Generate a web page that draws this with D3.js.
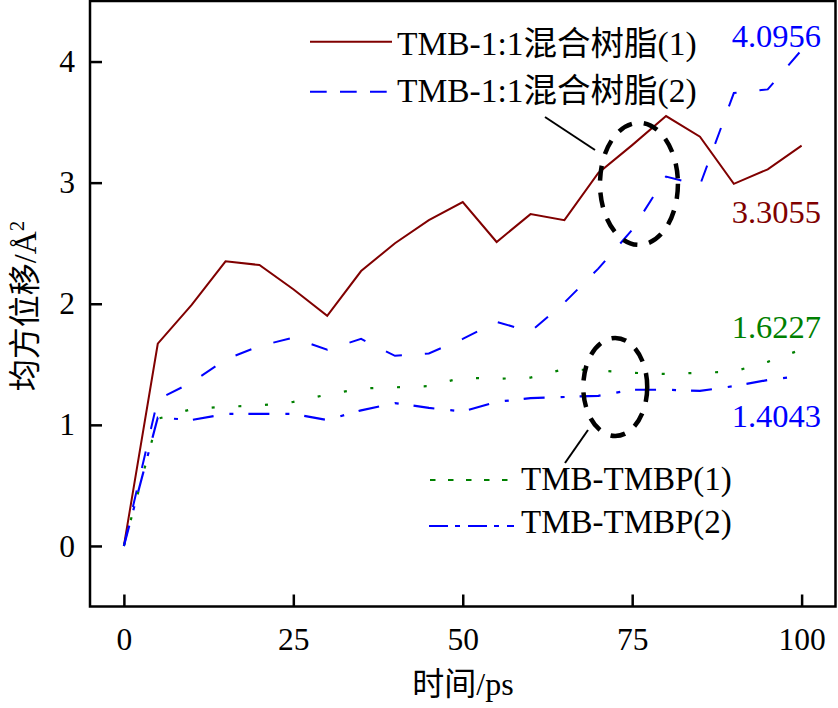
<!DOCTYPE html>
<html>
<head>
<meta charset="utf-8">
<script src="https://cdn.jsdelivr.net/npm/d3@7"></script>
<style>
  html, body { margin: 0; padding: 0; background: #fff; }
  svg { display: block; }
  text { font-family: "Liberation Serif", "Times New Roman", "Noto Sans CJK SC", serif; }
</style>
</head>
<body>
<svg id="chart" width="838" height="708"></svg>
<script>
// ---- data ----
const time = [0, 5, 10, 15, 20, 25, 30, 35, 40, 45, 50, 55, 60, 65, 70, 75, 80, 85, 90, 95, 100];
const resin1 = [0, 1.67, 1.99, 2.35, 2.32, 2.12, 1.90, 2.27, 2.50, 2.69, 2.84, 2.51, 2.74, 2.69, 3.08, 3.31, 3.55, 3.38, 2.99, 3.11, 3.3055];
const resin2 = [0, 1.21, 1.35, 1.54, 1.65, 1.72, 1.62, 1.71, 1.57, 1.59, 1.71, 1.85, 1.77, 2.01, 2.29, 2.61, 3.05, 2.98, 3.74, 3.77, 4.0956];
const tmbp1 = [0, 1.05, 1.13, 1.15, 1.16, 1.19, 1.25, 1.30, 1.31, 1.32, 1.39, 1.38, 1.39, 1.46, 1.45, 1.43, 1.42, 1.43, 1.44, 1.52, 1.6227];
const tmbp2 = [0, 1.06, 1.04, 1.09, 1.09, 1.09, 1.04, 1.12, 1.18, 1.14, 1.11, 1.19, 1.22, 1.23, 1.24, 1.29, 1.29, 1.28, 1.32, 1.37, 1.4043];
const seriesNames = ["TMB-1:1混合树脂(1)", "TMB-1:1混合树脂(2)", "TMB-TMBP(1)", "TMB-TMBP(2)"];
const endLabels = ["3.3055", "4.0956", "1.6227", "1.4043"];
const xTicks = [0, 25, 50, 75, 100];
const yTicks = [0, 1, 2, 3, 4];
const xTitle = "时间/ps";
const yTitle = "均方位移/Å";
// annotation ellipses (data units: centre x, centre y, radius x, radius y)
const ellipseCx = [76.0, 72.5];
const ellipseCy = [2.99, 1.313];
const ellipseRx = [5.75, 4.72];
const ellipseRy = [0.504, 0.405];

// ---- layout ----
const svg = d3.select("#chart");
svg.append("rect").attr("width", 838).attr("height", 708).attr("fill", "#fff");
const L = 90, R = 835.5, T = 1, B = 606.5;
const x = d3.scaleLinear().domain([-5, 105]).range([L, R]);
const y = d3.scaleLinear().domain([-0.5, 4.5]).range([B, T]);

const styles = [
  { color: "#800000", dash: null, legDash: null, width: 2 },
  { color: "#0000ff", dash: "17,23", legDash: "16.7,13.3", width: 2 },
  { color: "#008000", dash: "3,23.7", legDash: "5.5,12.5", width: 2.2 },
  { color: "#0000ff", dash: "21,16,4,15", legDash: "19,7,5,8", width: 2.2 }
];
const values = [resin1, resin2, tmbp1, tmbp2];

// axes
const xAxis = d3.axisBottom(x).tickValues(xTicks).tickFormat(d3.format("d"))
  .tickSizeInner(-12).tickSizeOuter(0).tickPadding(21);
const yAxis = d3.axisLeft(y).tickValues(yTicks).tickFormat(d3.format("d"))
  .tickSizeInner(-12).tickSizeOuter(0).tickPadding(15);
const gx = svg.append("g").attr("transform", `translate(0,${B})`).call(xAxis);
const gy = svg.append("g").attr("transform", `translate(${L},0)`).call(yAxis);
[gx, gy].forEach(g => {
  g.attr("font-family", null);
  g.select(".domain").remove();
  g.selectAll(".tick line").attr("stroke", "#000").attr("stroke-width", 2.5);
  g.selectAll(".tick text").attr("fill", "#000").style("font-size", "31.5px");
});

// lines
const line = d3.line().x((d, i) => x(time[i])).y(d => y(d));
values.forEach((vals, k) => {
  const s = styles[k];
  svg.append("path")
    .datum(vals)
    .attr("d", line)
    .attr("fill", "none")
    .attr("stroke", s.color)
    .attr("stroke-width", s.width)
    .attr("stroke-dasharray", s.dash)
    .attr("stroke-linejoin", "miter");
});

// frame
svg.append("rect").attr("x", L).attr("y", T).attr("width", R - L).attr("height", B - T)
  .attr("fill", "none").attr("stroke", "#000").attr("stroke-width", 2.5);

// end value labels
const endLabelY = [223.3, 46.7, 338.3, 426.7];
const endColors = ["#800000", "#0000ff", "#008000", "#0000ff"];
endLabels.forEach((t, k) => {
  svg.append("text").attr("x", 821).attr("y", endLabelY[k])
    .attr("text-anchor", "end").attr("fill", endColors[k])
    .style("font-size", "32.5px").text(t);
});

// legend
const legendItems = [
  { x1: 310, x2: 392, ly: 41.7, tx: 397, ty: 55 },
  { x1: 310, x2: 388, ly: 91.7, tx: 397, ty: 101.7 },
  { x1: 430, x2: 509, ly: 480, tx: 521, ty: 490 },
  { x1: 429, x2: 514, ly: 526, tx: 521, ty: 533.3 }
];
legendItems.forEach((p, k) => {
  const s = styles[k];
  svg.append("line").attr("x1", p.x1).attr("x2", p.x2).attr("y1", p.ly).attr("y2", p.ly)
    .attr("stroke", s.color).attr("stroke-width", s.width).attr("stroke-dasharray", s.legDash);
  svg.append("text").attr("x", p.tx).attr("y", p.ty).attr("fill", "#000")
    .style("font-size", k < 2 ? "33.5px" : "33px").text(seriesNames[k]);
});

// annotation ellipses and leader lines
ellipseCx.forEach((cx, k) => {
  svg.append("ellipse")
    .attr("cx", x(cx)).attr("cy", y(ellipseCy[k]))
    .attr("rx", x(cx + ellipseRx[k]) - x(cx))
    .attr("ry", y(0) - y(ellipseRy[k]))
    .attr("fill", "none").attr("stroke", "#000")
    .attr("stroke-width", 4.5).attr("stroke-dasharray", "15,12");
});
svg.append("line").attr("x1", 545).attr("y1", 117).attr("x2", 595).attr("y2", 150)
  .attr("stroke", "#000").attr("stroke-width", 2);
svg.append("line").attr("x1", 588).attr("y1", 430).attr("x2", 565).attr("y2", 463)
  .attr("stroke", "#000").attr("stroke-width", 2);

// axis titles
svg.append("text").attr("x", 463).attr("y", 695).attr("text-anchor", "middle")
  .attr("fill", "#000").style("font-size", "32px").text(xTitle);
const yt = svg.append("text").attr("transform", "translate(36,306) rotate(-90)")
  .attr("text-anchor", "middle").attr("fill", "#000").style("font-size", "32px");
yt.append("tspan").text(yTitle);
yt.append("tspan").attr("dy", -12).style("font-size", "21px").text("2");
</script>
</body>
</html>
